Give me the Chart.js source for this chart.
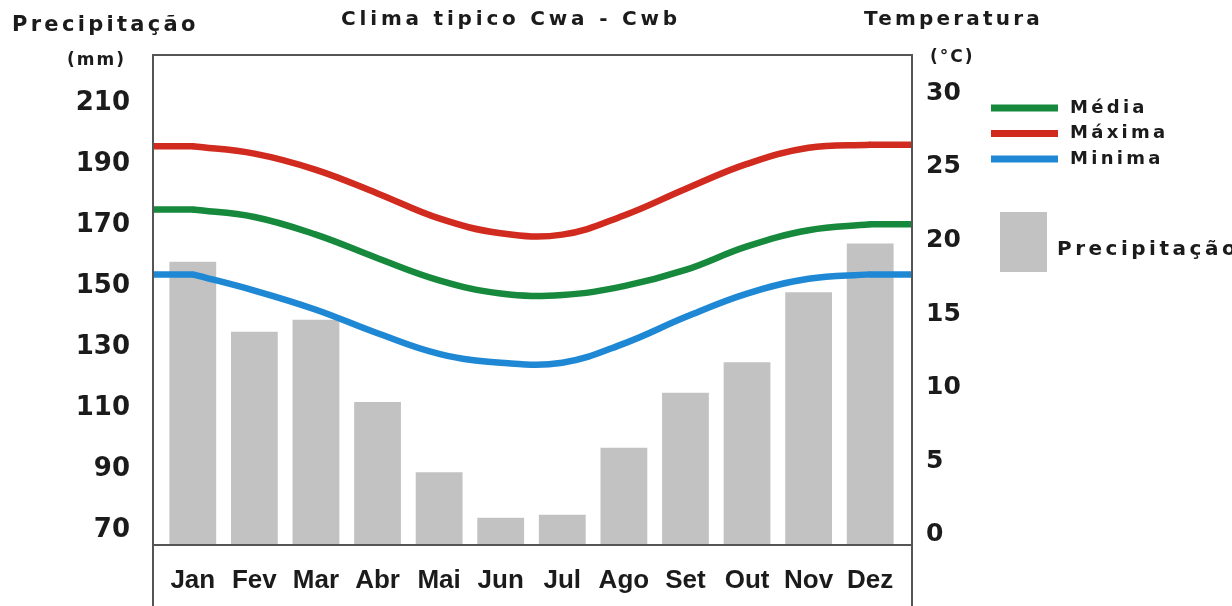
<!DOCTYPE html>
<html>
<head>
<meta charset="utf-8">
<script src="https://cdn.jsdelivr.net/npm/chart.js@4.4.1/dist/chart.umd.min.js"></script>
<style>
  body { margin: 0; background: #fff; }
  #wrap { width: 1232px; height: 606px; position: relative; }
</style>
</head>
<body>
<div id="wrap"><canvas id="chart"></canvas></div>
<script>
// values
const months = ['Jan', 'Fev', 'Mar', 'Abr', 'Mai', 'Jun', 'Jul', 'Ago', 'Set', 'Out', 'Nov', 'Dez'];
const precipitacao = [158, 135, 139, 112, 89, 74, 75, 97, 115, 125, 148, 164];
const tempMedia = [22.1, 21.6, 20.4, 18.8, 17.3, 16.4, 16.3, 16.9, 18.0, 19.6, 20.7, 21.1];
const tempMaxima = [26.4, 25.9, 24.8, 23.2, 21.5, 20.5, 20.4, 21.7, 23.5, 25.2, 26.3, 26.5];
const tempMinima = [17.7, 16.6, 15.3, 13.7, 12.3, 11.7, 11.7, 13.0, 14.8, 16.4, 17.4, 17.7];
const precipTicks = [70, 90, 110, 130, 150, 170, 190, 210];
const tempTicks = [0, 5, 10, 15, 20, 25, 30];

const BOLD = '"DejaVu Sans", sans-serif';
const INK = '#1b1b1b';
const FRAME_GAP = 9; // the box sits a little outside the bars' area

function spacedText(ctx, text, x, y, size, spacing, align) {
  ctx.save();
  ctx.font = `bold ${size}px ${BOLD}`;
  ctx.fillStyle = INK;
  ctx.letterSpacing = spacing + 'px';
  ctx.textAlign = align || 'left';
  ctx.textBaseline = 'middle';
  ctx.fillText(text, x, y);
  ctx.restore();
}

// box around the plot, running down past the month labels
const framePlugin = {
  id: 'frame',
  afterDatasetsDraw(chart) {
    const { ctx, chartArea: a, height } = chart;
    const l = a.left - FRAME_GAP, r = a.right + FRAME_GAP + 2;
    ctx.save();
    ctx.strokeStyle = '#555';
    ctx.lineWidth = 2;
    ctx.beginPath();
    ctx.moveTo(l, height);
    ctx.lineTo(l, a.top);
    ctx.lineTo(r, a.top);
    ctx.lineTo(r, height);
    ctx.moveTo(l, a.bottom);
    ctx.lineTo(r, a.bottom);
    ctx.stroke();
    ctx.restore();
  }
};

// the curves run on to the frame edges
const lineEndsPlugin = {
  id: 'lineEnds',
  afterDatasetsDraw(chart) {
    const { ctx, chartArea: a } = chart;
    chart.data.datasets.forEach((ds, i) => {
      if (ds.type !== 'line') return;
      const pts = chart.getDatasetMeta(i).data;
      const first = pts[0], last = pts[pts.length - 1];
      ctx.save();
      ctx.strokeStyle = ds.borderColor;
      ctx.lineWidth = ds.borderWidth;
      ctx.beginPath();
      ctx.moveTo(a.left - FRAME_GAP, first.y);
      ctx.lineTo(first.x + 1, first.y);
      ctx.moveTo(last.x - 1, last.y);
      ctx.lineTo(a.right + FRAME_GAP + 2, last.y);
      ctx.stroke();
      ctx.restore();
    });
  }
};

const labelsPlugin = {
  id: 'labels',
  afterDraw(chart) {
    const { ctx } = chart;
    spacedText(ctx, 'Precipitação', 12, 26, 21, 3.3);
    spacedText(ctx, '(mm)', 67, 61, 17, 2);
    spacedText(ctx, 'Clima tipico Cwa - Cwb', 511, 20, 20, 3.8, 'center');
    spacedText(ctx, 'Temperatura', 864, 20, 20, 3.2);
    spacedText(ctx, '(°C)', 930, 58, 17, 2);

    // legend
    const lines = chart.data.datasets.filter(d => d.type === 'line');
    lines.forEach((ds, i) => {
      const y = 108 + i * 25.5;
      ctx.save();
      ctx.strokeStyle = ds.borderColor;
      ctx.lineWidth = 7;
      ctx.beginPath();
      ctx.moveTo(991, y);
      ctx.lineTo(1058, y);
      ctx.stroke();
      ctx.restore();
      spacedText(ctx, ds.label, 1070, y, 18, 3.3);
    });
    const bar = chart.data.datasets.find(d => d.type === 'bar');
    ctx.save();
    ctx.fillStyle = bar.backgroundColor;
    ctx.fillRect(1000, 212, 47, 60);
    ctx.restore();
    spacedText(ctx, bar.label, 1057, 250, 20, 3.5);
  }
};

const lineStyle = { type: 'line', yAxisID: 'y1', borderWidth: 6.5, pointRadius: 0, tension: 0.4, order: 1 };

new Chart(document.getElementById('chart'), {
  data: {
    labels: months,
    datasets: [
      { ...lineStyle, label: 'Média', data: tempMedia, borderColor: '#16893d' },
      { ...lineStyle, label: 'Máxima', data: tempMaxima, borderColor: '#d12a1f' },
      { ...lineStyle, label: 'Minima', data: tempMinima, borderColor: '#1f88d4' },
      { type: 'bar', label: 'Precipitação', data: precipitacao, yAxisID: 'y', backgroundColor: '#c2c2c2',
        barPercentage: 0.76, categoryPercentage: 1, order: 2 }
    ]
  },
  options: {
    responsive: true,
    maintainAspectRatio: false,
    animation: false,
    layout: { padding: { top: 55, left: 0, right: 0, bottom: 0 } },
    plugins: { legend: { display: false }, tooltip: { enabled: false } },
    scales: {
      x: {
        grid: { display: false },
        border: { display: false },
        ticks: { color: INK, padding: 12, maxRotation: 0, autoSkip: false,
          font: { family: '"Liberation Sans", Arial, sans-serif', size: 26, weight: 'bold' } },
        afterFit(scale) { scale.height = 61; }
      },
      y: {
        position: 'left',
        min: 65.1,
        max: 225.8,
        grid: { display: false },
        border: { display: false },
        ticks: { color: INK, padding: 24, font: { family: BOLD, size: 26, weight: 'bold' } },
        afterBuildTicks(scale) { scale.ticks = precipTicks.map(v => ({ value: v })); },
        afterFit(scale) { scale.width = 162; }
      },
      y1: {
        position: 'right',
        min: -0.68,
        max: 32.6,
        grid: { display: false },
        border: { display: false },
        ticks: { color: INK, padding: 17, font: { family: BOLD, size: 25, weight: 'bold' } },
        afterBuildTicks(scale) { scale.ticks = tempTicks.map(v => ({ value: v })); },
        afterFit(scale) { scale.width = 331; }
      }
    }
  },
  plugins: [lineEndsPlugin, framePlugin, labelsPlugin]
});
</script>
</body>
</html>
